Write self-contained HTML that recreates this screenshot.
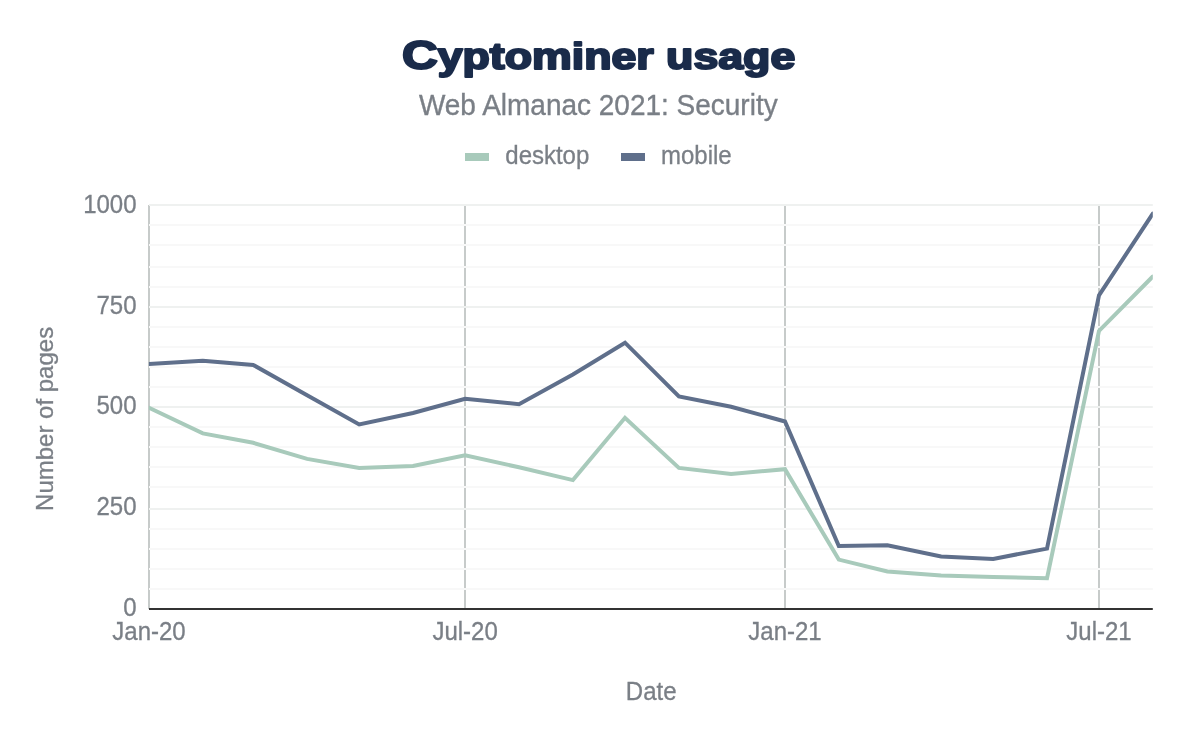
<!DOCTYPE html>
<html><head><meta charset="utf-8"><style>
html,body{margin:0;padding:0;background:#fff;}
body{width:1200px;height:742px;overflow:hidden;}
svg{display:block;will-change:transform;}
text{font-family:"Liberation Sans",sans-serif;}
.ax{font-size:24px;fill:#7a7f86;stroke:#7a7f86;stroke-width:0.3px;}
.title{font-size:40px;font-weight:bold;fill:#1a2b4a;}
.sub{font-size:28px;fill:#7a7f86;stroke:#7a7f86;stroke-width:0.35px;}
.leg{font-size:24px;fill:#7a7f86;stroke:#7a7f86;stroke-width:0.3px;}
</style></head><body>
<svg width="1200" height="742" viewBox="0 0 1200 742">
<defs><clipPath id="pc"><rect x="148.9" y="150" width="1003.9" height="500"/></clipPath></defs>
<rect width="1200" height="742" fill="#fff"/>
<text x="598.6" y="68.6" text-anchor="middle" class="title" stroke="#1a2b4a" stroke-width="2.1" stroke-linejoin="round" transform="translate(598.6 0) scale(1.208 1) translate(-598.6 0)"><tspan font-size="41">C</tspan><tspan font-size="37">yptominer usage</tspan></text>
<text x="598.30" y="114.70" text-anchor="middle" class="sub" transform="matrix(1 0 0 1.040 0 -4.588)">Web Almanac 2021: Security</text>
<rect x="465" y="153" width="24" height="8" fill="#a8cabb"/>
<text x="505.30" y="163.90" class="leg" transform="matrix(1 0 0 1.040 0 -6.556)">desktop</text>
<rect x="621" y="153" width="24" height="8" fill="#5f6f8b"/>
<text x="661.00" y="163.90" class="leg" transform="matrix(1 0 0 1.040 0 -6.556)">mobile</text>
<line x1="149" y1="205" x2="149" y2="609" stroke="#c7cbca" stroke-width="2"/>
<line x1="465.00" y1="205" x2="465.00" y2="608" stroke="#c7cbca" stroke-width="2"/>
<line x1="785.00" y1="205" x2="785.00" y2="608" stroke="#c7cbca" stroke-width="2"/>
<line x1="1099.00" y1="205" x2="1099.00" y2="608" stroke="#c7cbca" stroke-width="2"/>
<line x1="149" y1="589.00" x2="1152.8" y2="589.00" stroke="#f8f8f8" stroke-width="2"/>
<line x1="149" y1="569.00" x2="1152.8" y2="569.00" stroke="#f8f8f8" stroke-width="2"/>
<line x1="149" y1="549.00" x2="1152.8" y2="549.00" stroke="#f8f8f8" stroke-width="2"/>
<line x1="149" y1="529.00" x2="1152.8" y2="529.00" stroke="#f8f8f8" stroke-width="2"/>
<line x1="149" y1="509.00" x2="1152.8" y2="509.00" stroke="#eff1f0" stroke-width="2"/>
<line x1="149" y1="487.00" x2="1152.8" y2="487.00" stroke="#f8f8f8" stroke-width="2"/>
<line x1="149" y1="467.00" x2="1152.8" y2="467.00" stroke="#f8f8f8" stroke-width="2"/>
<line x1="149" y1="447.00" x2="1152.8" y2="447.00" stroke="#f8f8f8" stroke-width="2"/>
<line x1="149" y1="427.00" x2="1152.8" y2="427.00" stroke="#f8f8f8" stroke-width="2"/>
<line x1="149" y1="407.00" x2="1152.8" y2="407.00" stroke="#eff1f0" stroke-width="2"/>
<line x1="149" y1="387.00" x2="1152.8" y2="387.00" stroke="#f8f8f8" stroke-width="2"/>
<line x1="149" y1="367.00" x2="1152.8" y2="367.00" stroke="#f8f8f8" stroke-width="2"/>
<line x1="149" y1="347.00" x2="1152.8" y2="347.00" stroke="#f8f8f8" stroke-width="2"/>
<line x1="149" y1="327.00" x2="1152.8" y2="327.00" stroke="#f8f8f8" stroke-width="2"/>
<line x1="149" y1="307.00" x2="1152.8" y2="307.00" stroke="#eff1f0" stroke-width="2"/>
<line x1="149" y1="287.00" x2="1152.8" y2="287.00" stroke="#f8f8f8" stroke-width="2"/>
<line x1="149" y1="267.00" x2="1152.8" y2="267.00" stroke="#f8f8f8" stroke-width="2"/>
<line x1="149" y1="245.00" x2="1152.8" y2="245.00" stroke="#f8f8f8" stroke-width="2"/>
<line x1="149" y1="225.00" x2="1152.8" y2="225.00" stroke="#f8f8f8" stroke-width="2"/>
<line x1="149" y1="205.00" x2="1152.8" y2="205.00" stroke="#eff1f0" stroke-width="2"/>
<polyline points="149.0,407.7 202.8,433.4 253.2,442.8 307.1,458.9 359.2,468.0 413.0,466.0 465.1,455.3 519.0,467.3 572.9,480.1 625.0,417.8 678.9,467.9 731.1,473.9 785.0,469.2 838.8,559.6 887.4,571.4 941.1,575.5 993.2,576.9 1047.0,578.3 1099.0,330.9 1152.8,276.5" fill="none" stroke="#a8cabb" stroke-width="4" stroke-linejoin="miter" stroke-linecap="round" clip-path="url(#pc)"/>
<polyline points="149.0,364.0 202.8,360.8 253.2,364.9 307.1,395.2 359.2,424.4 413.0,413.0 465.1,398.8 519.0,404.2 572.9,374.4 625.0,342.7 678.9,396.5 731.1,406.7 785.0,421.5 838.8,546.0 887.4,545.2 941.1,556.5 993.2,558.9 1047.0,548.6 1099.0,295.3 1152.8,213.7" fill="none" stroke="#5f6f8b" stroke-width="4" stroke-linejoin="miter" stroke-linecap="round" clip-path="url(#pc)"/>
<line x1="149" y1="609" x2="1152.8" y2="609" stroke="#333" stroke-width="2"/>
<text x="136.50" y="616.00" text-anchor="end" class="ax" transform="matrix(1 0 0 1.040 0 -24.640)">0</text>
<text x="136.50" y="515.00" text-anchor="end" class="ax" transform="matrix(1 0 0 1.040 0 -20.600)">250</text>
<text x="136.50" y="414.00" text-anchor="end" class="ax" transform="matrix(1 0 0 1.040 0 -16.560)">500</text>
<text x="136.50" y="314.00" text-anchor="end" class="ax" transform="matrix(1 0 0 1.040 0 -12.560)">750</text>
<text x="136.50" y="213.00" text-anchor="end" class="ax" transform="matrix(1 0 0 1.040 0 -8.520)">1000</text>
<text x="149.00" y="640.00" text-anchor="middle" class="ax" transform="matrix(1 0 0 1.040 0 -25.600)">Jan-20</text>
<text x="465.10" y="640.00" text-anchor="middle" class="ax" transform="matrix(1 0 0 1.040 0 -25.600)">Jul-20</text>
<text x="785.00" y="640.00" text-anchor="middle" class="ax" transform="matrix(1 0 0 1.040 0 -25.600)">Jan-21</text>
<text x="1099.00" y="640.00" text-anchor="middle" class="ax" transform="matrix(1 0 0 1.040 0 -25.600)">Jul-21</text>
<text x="651.20" y="699.80" text-anchor="middle" class="ax" transform="matrix(1 0 0 1.040 0 -27.992)">Date</text>
<text transform="translate(52.6 418.9) rotate(-90)" text-anchor="middle" class="ax">Number of pages</text>
</svg>
</body></html>
